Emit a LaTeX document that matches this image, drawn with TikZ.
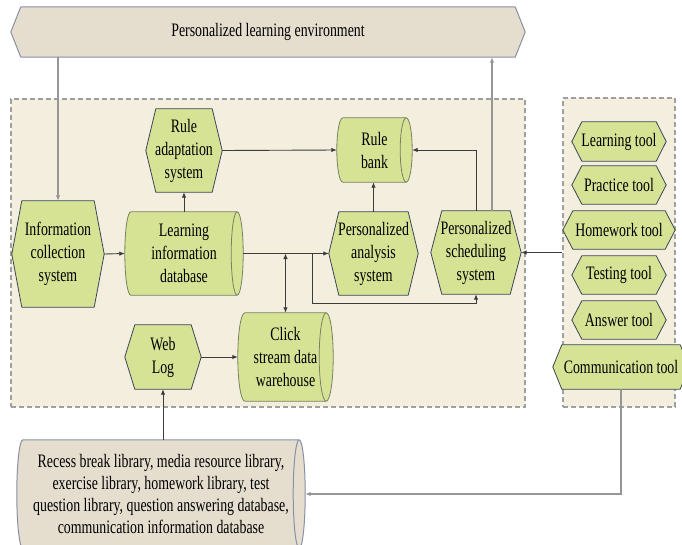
\documentclass[tikz,border=0pt]{standalone}
\usepackage{fontspec}
\setmainfont{Liberation Serif}[FakeStretch=0.73]
\usetikzlibrary{arrows.meta,calc,fit}

\pgfdeclarelayer{boxes}
\pgfdeclarelayer{shapes}
\pgfsetlayers{boxes,shapes,main}

\definecolor{leaf}{RGB}{214,226,148}
\definecolor{leafedge}{RGB}{60,70,88}
\definecolor{cyledge}{RGB}{120,130,100}
\definecolor{sand}{RGB}{229,222,207}
\definecolor{sandedge}{RGB}{136,144,166}
\definecolor{panel}{RGB}{243,238,222}
\definecolor{dashc}{RGB}{160,160,160}
\definecolor{connc}{RGB}{60,60,60}
\definecolor{palec}{RGB}{150,150,150}

% hexagon with pointed left/right ends, drawn behind a node
\newcommand\hexframe[3][]{%
  \begin{pgfonlayer}{shapes}
    \filldraw[hexline,#1] (#2.west) -- ([xshift=#3pt]#2.north west)
      -- ([xshift=-#3pt]#2.north east) -- (#2.east)
      -- ([xshift=-#3pt]#2.south east) -- ([xshift=#3pt]#2.south west) -- cycle;
  \end{pgfonlayer}}

% horizontal cylinder (database) drawn behind a node
\newcommand\cylframe[3][]{%
  \begin{pgfonlayer}{shapes}
    \filldraw[cylline,#1] let \p1=(#2.north west), \p2=(#2.south east),
        \n1={(\y1-\y2)/2} in
      ({\x1+#3pt},\y1) -- ({\x2-#3pt},\y1)
      arc[start angle=90,end angle=-90,x radius=#3pt,y radius=\n1]
      -- ({\x1+#3pt},\y2)
      arc[start angle=270,end angle=90,x radius=#3pt,y radius=\n1] -- cycle;
    \draw[cylline,#1] let \p1=(#2.north west), \p2=(#2.south east),
        \n1={(\y1-\y2)/2} in
      ({\x2-#3pt},\y1)
      arc[start angle=90,end angle=270,x radius=#3pt,y radius=\n1];
  \end{pgfonlayer}}

\tikzset{
  sz/.style 2 args={minimum width=#1pt, minimum height=#2pt},
  txt/.style={inner sep=0pt, align=center, text=black,
    font=\fontsize{19}{23}\selectfont},
  hexline/.style={draw=leafedge, fill=leaf, line width=0.8pt, line join=round},
  cylline/.style={draw=cyledge, fill=leaf, line width=0.8pt},
  sandfill/.style={draw=sandedge, fill=sand, line width=1pt},
  dashbox/.style={draw=dashc, fill=panel, line width=1.2pt,
    dash pattern=on 5pt off 3pt, inner sep=0pt},
  conn/.style={draw=connc, line width=0.9pt},
  pale/.style={draw=palec, line width=1.1pt},
  >={Latex[length=5.5pt,width=4.5pt]},
}

\begin{document}
\begin{tikzpicture}[x=1pt,y=-1pt]
\useasboundingbox (0,0) rectangle (682,544);

% dashed panels
\begin{pgfonlayer}{boxes}
  \node[dashbox, fit={(11,99) (525,407)}] (core) {};
  \node[dashbox, fit={(563,98) (675,407)}] (tools) {};
\end{pgfonlayer}

% top banner
\node[txt, sz={514}{50}] (env) at (268,32) {Personalized learning environment};
\hexframe[sandfill]{env}{10}

% core systems
\node[txt, sz={92}{106}] (info) at (58,254) {Information\\collection\\system};
\hexframe{info}{10}
\node[txt, sz={118}{83}] (ldb) at (184,253.5) {Learning\\information\\database};
\cylframe{ldb}{6}
\node[txt, sz={76}{83}] (rad) at (184,150.5) {Rule\\adaptation\\system};
\hexframe{rad}{10}
\node[txt, sz={75}{64}] (rbank) at (374.5,150) {Rule\\bank};
\cylframe{rbank}{6}
\node[txt, sz={89}{83}] (pas) at (373.5,253.5) {Personalized\\analysis\\system};
\hexframe{pas}{10}
\node[txt, sz={90}{83}] (pss) at (476,252.5) {Personalized\\scheduling\\system};
\hexframe{pss}{11}
\node[txt, sz={76}{64}] (web) at (163,357) {Web\\Log};
\hexframe{web}{10}
\node[txt, sz={95}{88}] (click) at (285.5,357) {Click\\stream data\\warehouse};
\cylframe{click}{7}

% resource libraries
\node[txt, sz={288}{108}, font=\fontsize{19}{22}\selectfont] (lib) at (161,494)
  {Recess break library, media resource library,\\exercise library, homework library, test\\question library, question answering database,\\communication information database};
\cylframe[sandfill]{lib}{6}

% tools
\node[txt, sz={94}{39}] (learn) at (619,141.5) {Learning tool};
\hexframe{learn}{10}
\node[txt, sz={94}{38}] (practice) at (619,185) {Practice tool};
\hexframe{practice}{10}
\node[txt, sz={112}{38}] (homework) at (619,230) {Homework tool};
\hexframe{homework}{10}
\node[txt, sz={94}{38}] (testing) at (619,275) {Testing tool};
\hexframe{testing}{10}
\node[txt, sz={94}{38}] (answer) at (619,320) {Answer tool};
\hexframe{answer}{10}
\node[txt, sz={136}{44}] (comm) at (621,367) {Communication tool};
\hexframe{comm}{9}

% connectors
\draw[pale,->] (info.north |- env.south) -- (info.north);
\draw[pale,->] ([xshift=16pt]pss.north) -- ([xshift=16pt]pss.north |- env.south);
\draw[conn,->] (pss.north) |- (rbank.east);
\draw[conn,->] (info.east) -- (ldb.west);
\draw[conn,->] (ldb.north) -- (rad.south);
\draw[conn,->] (rad.east) -- (rbank.west);
\draw[conn,->] (ldb.east) -- (pas.west);
\draw[conn,<->] (ldb.east -| click.north) -- (click.north);
\coordinate (split) at ([xshift=69pt]ldb.east);
\draw[conn,->] (split) -- ++(0,50) -| (pss.south);
\draw[conn,->] (pas.north) -- (pas.north |- rbank.south);
\draw[conn,->] (tools.west |- pss.east) -- (pss.east);
\draw[conn,->] (web.east) -- (click.west);
\draw[conn,->] (web.south |- lib.north) -- (web.south);
\draw[pale,->] (comm.south) |- (lib.east);
\end{tikzpicture}
\end{document}
